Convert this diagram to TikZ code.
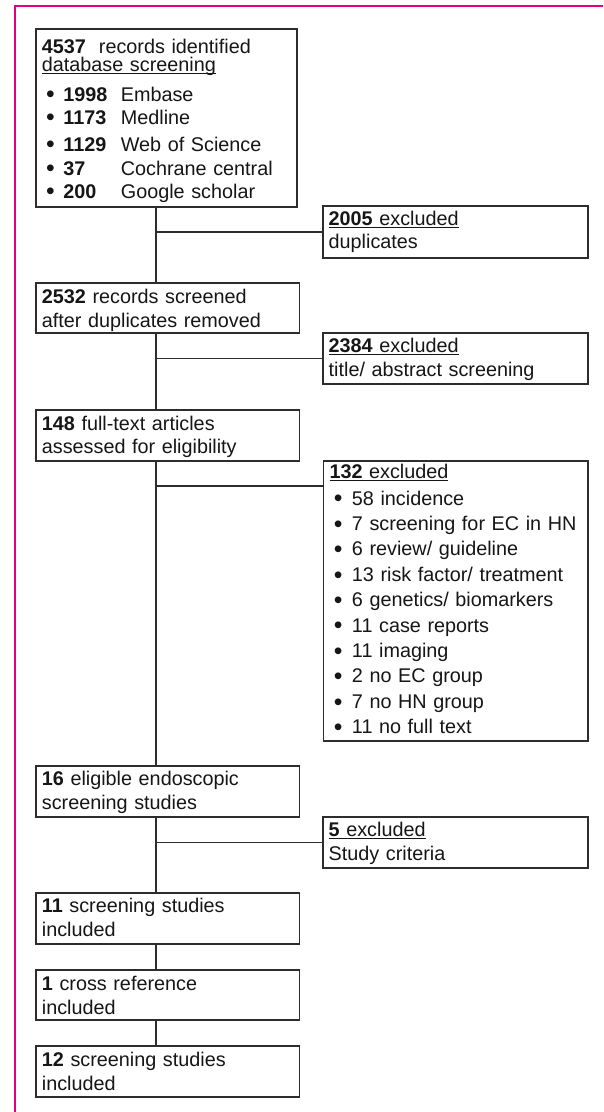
\documentclass[tikz,border=0pt]{standalone}
\usepackage{fontspec}
\setmainfont{Liberation Sans}
\definecolor{pinkc}{RGB}{228,0,124}
\definecolor{boxc}{RGB}{45,45,45}
\definecolor{txtc}{RGB}{22,22,22}
\newcommand\myul[1]{\leavevmode\setbox0\hbox{#1}\rlap{\rule[-2.6pt]{\wd0}{0.9pt}}\box0}
\newcommand\bitem{\leavevmode\hspace*{4.3pt}\raisebox{-1.8pt}{\scalebox{1.25}{\textbullet}}}
\begin{document}
\begin{tikzpicture}[x=1pt,y=-1pt,
  box/.style={draw=boxc, line width=1.6pt, rectangle, inner sep=0pt, outer sep=0pt, anchor=north west},
  txt/.style={anchor=base west, inner sep=0pt, align=left, text width=258pt, text=txtc,
              font=\fontsize{19.8}{23.8}\selectfont},
  conn/.style={draw=boxc, line width=1.6pt}]
\useasboundingbox[fill=white] (0,0) rectangle (603,1112);
% pink frame
\draw[pinkc, line width=2.3pt] (15,1112) -- (15,6.2) -- (603,6.2);
% boxes
\node[box, minimum width=261pt, minimum height=178pt] (A) at (36,29) {};
\node[box, minimum width=265pt, minimum height=52pt] (B) at (323,206) {};
\node[box, minimum width=263.5pt, minimum height=50pt] (C) at (36,283) {};
\node[box, minimum width=265pt, minimum height=51pt] (D) at (323,333) {};
\node[box, minimum width=263.5pt, minimum height=51pt] (E) at (36,410) {};
\node[box, minimum width=264.5pt, minimum height=280pt] (F) at (323.5,461) {};
\node[box, minimum width=263.5pt, minimum height=51pt] (G) at (36,766) {};
\node[box, minimum width=265pt, minimum height=51pt] (H) at (323,817) {};
\node[box, minimum width=263.5pt, minimum height=51pt] (I) at (36,893) {};
\node[box, minimum width=263.5pt, minimum height=50pt] (J) at (36,970) {};
\node[box, minimum width=263.5pt, minimum height=51pt] (K) at (36,1046) {};
% texts
\node[txt] (At) at (41.7,53.3) {\textbf{4537}\hspace{13pt}records identified\\[-5.6pt]
\myul{database screening}\\[5.7pt]
\bitem\hspace{8.5pt}\makebox[57.5pt][l]{\textbf{1998}}Embase\\[-0.8pt]
\bitem\hspace{8.5pt}\makebox[57.5pt][l]{\textbf{1173}}Medline\\[3.2pt]
\bitem\hspace{8.5pt}\makebox[57.5pt][l]{\textbf{1129}}Web of Science\\[0.2pt]
\bitem\hspace{8.5pt}\makebox[57.5pt][l]{\textbf{37}}Cochrane central\\[-0.8pt]
\bitem\hspace{8.5pt}\makebox[57.5pt][l]{\textbf{200}}Google scholar};
\node[txt] (Bt) at (328.5,225) {\myul{\textbf{2005} excluded}\\duplicates};
\node[txt] (Ct) at (41.7,303.3) {\textbf{2532} records screened\\after duplicates removed};
\node[txt] (Dt) at (328.5,352.3) {\myul{\textbf{2384} excluded}\\title/ abstract screening};
\node[txt] (Et) at (41.7,430) {\textbf{148} full-text articles\\assessed for eligibility};
\node[txt, font=\fontsize{19.8}{25.4}\selectfont] (Ft) at (329.3,478.3) {\myul{\textbf{132} excluded}\\[1.3pt]
\bitem\hspace{9.5pt}58 incidence\\
\bitem\hspace{9.5pt}7 screening for EC in HN\\
\bitem\hspace{9.5pt}6 review/ guideline\\
\bitem\hspace{9.5pt}13 risk factor/ treatment\\
\bitem\hspace{9.5pt}6 genetics/ biomarkers\\
\bitem\hspace{9.5pt}11 case reports\\
\bitem\hspace{9.5pt}11 imaging\\
\bitem\hspace{9.5pt}2 no EC group\\
\bitem\hspace{9.5pt}7 no HN group\\
\bitem\hspace{9.5pt}11 no full text};
\node[txt] (Gt) at (41.7,785.7) {\textbf{16} eligible endoscopic\\screening studies};
\node[txt] (Ht) at (328.5,836.7) {\myul{\textbf{5} excluded}\\Study criteria};
\node[txt] (It) at (41.7,912.7) {\textbf{11} screening studies\\included};
\node[txt] (Jt) at (41.7,990.7) {\textbf{1} cross reference\\included};
\node[txt] (Kt) at (41.7,1066.7) {\textbf{12} screening studies\\included};
% connectors
\coordinate (t) at (156,0);
\draw[conn] (A.south -| t) -- (C.north -| t);
\draw[conn] (C.south -| t) -- (E.north -| t);
\draw[conn] (E.south -| t) -- (G.north -| t);
\draw[conn] (G.south -| t) -- (I.north -| t);
\draw[conn] (I.south -| t) -- (J.north -| t);
\draw[conn] (J.south -| t) -- (K.north -| t);
\draw[conn] (B.west -| t) -- (B.west);
\draw[conn] (D.west -| t) -- (D.west);
\coordinate (fb) at ([yshift=-25pt]F.north west);
\draw[conn] (fb -| t) -- (fb);
\draw[conn] (H.west -| t) -- (H.west);
\end{tikzpicture}
\end{document}
